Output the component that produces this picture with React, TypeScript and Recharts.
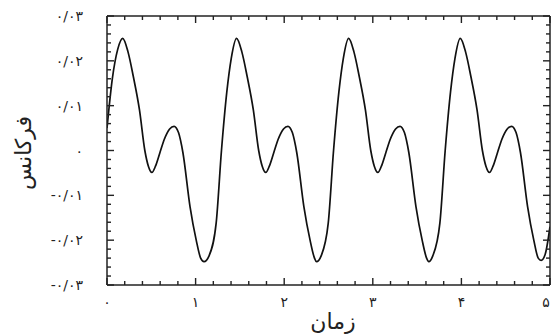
import React from 'react';
import { LineChart, Line, XAxis, YAxis } from 'recharts';

// time (x) values
const times = [
  0.0, 0.06, 0.12, 0.177, 0.237, 0.297, 0.367, 0.427, 0.467, 0.507, 0.547, 0.597, 0.647, 0.707, 0.757, 0.807, 0.857, 0.937, 1.007, 1.057, 1.095,
  1.152, 1.232, 1.292, 1.352, 1.402, 1.462, 1.522, 1.582, 1.652, 1.712, 1.752, 1.792, 1.832, 1.882, 1.932, 1.992, 2.042, 2.092, 2.142, 2.222, 2.292, 2.342, 2.365,
  2.417, 2.497, 2.557, 2.617, 2.667, 2.727, 2.787, 2.847, 2.917, 2.977, 3.017, 3.057, 3.097, 3.147, 3.197, 3.257, 3.307, 3.357, 3.407, 3.487, 3.557, 3.607, 3.632,
  3.677, 3.757, 3.817, 3.877, 3.927, 3.987, 4.047, 4.107, 4.177, 4.237, 4.277, 4.317, 4.357, 4.407, 4.457, 4.517, 4.567, 4.617, 4.667, 4.747, 4.817, 4.867, 4.9, 4.945, 5.0,
];

// frequency (y) values
const freqs = [
  0.005, 0.016, 0.0225, 0.025, 0.022, 0.0165, 0.009, 0.0, -0.0035, -0.0049, -0.0035, -0.0005, 0.0025, 0.0048, 0.0054, 0.004, -0.0005, -0.0125, -0.02, -0.024, -0.0248,
  -0.0235, -0.0162, 0.0, 0.013, 0.0205, 0.025, 0.022, 0.0165, 0.009, 0.0, -0.0035, -0.0049, -0.0035, -0.0005, 0.0025, 0.0048, 0.0054, 0.004, -0.0005, -0.0125, -0.02, -0.024, -0.0248,
  -0.0235, -0.0162, 0.0, 0.013, 0.0205, 0.025, 0.022, 0.0165, 0.009, 0.0, -0.0035, -0.0049, -0.0035, -0.0005, 0.0025, 0.0048, 0.0054, 0.004, -0.0005, -0.0125, -0.02, -0.024, -0.0248,
  -0.0235, -0.0162, 0.0, 0.013, 0.0205, 0.025, 0.022, 0.0165, 0.009, 0.0, -0.0035, -0.0049, -0.0035, -0.0005, 0.0025, 0.0048, 0.0054, 0.004, -0.0005, -0.0125, -0.02, -0.024, -0.0245, -0.0232, -0.017,
];

const xMajorValues = [0, 1, 2, 3, 4, 5];
const xMajorLabels = ['۰', '۱', '۲', '۳', '۴', '۵'];
const yMajorValues = [0.03, 0.02, 0.01, 0, -0.01, -0.02, -0.03];
const yMajorLabels = ['۰/۰۳', '۰/۰۲', '۰/۰۱', '۰', '-۰/۰۱', '-۰/۰۲', '-۰/۰۳'];

const xTitle = 'زمان';
const yTitle = 'فرکانس';

const data = times.map((t, i) => ({ t, v: freqs[i] }));

const xTicks = Array.from({ length: 26 }, (_, i) => +(i * 0.2).toFixed(2));
const yTicks = Array.from({ length: 31 }, (_, i) => +(-0.03 + i * 0.002).toFixed(3));

const FONT = '"DejaVu Sans", sans-serif';
const INK = '#222';
const MAJOR = 7;
const MINOR = 4;
const TW = 1.4;

const findIdx = (arr: number[], v: number) => arr.findIndex((a) => Math.abs(a - v) < 1e-6);

// side: 'b' | 't' | 'l' | 'r'
const makeTick = (side: string) => (props: any) => {
  const X = Number(props.x);
  const Y = Number(props.y);
  const value = Number(props.payload?.value);
  const isX = side === 'b' || side === 't';
  const idx = findIdx(isX ? xMajorValues : yMajorValues, value);
  const major = idx >= 0;
  const len = major ? MAJOR : MINOR;
  let rx = X - TW / 2;
  let ry = Y - TW / 2;
  let rw = TW;
  let rh = TW;
  if (side === 'b') { ry = Y - len; rh = len; }
  if (side === 't') { ry = Y; rh = len; }
  if (side === 'l') { rx = X; rw = len; }
  if (side === 'r') { rx = X - len; rw = len; }
  let label: any = null;
  if (major && side === 'b') {
    const last = idx === xMajorValues.length - 1;
    label = (
      <text x={last ? X - 4 : X} y={Y + 22} textAnchor="middle" fontSize={14} fontFamily={FONT} fill={INK}>
        {xMajorLabels[idx]}
      </text>
    );
  }
  if (major && side === 'l') {
    label = (
      <text x={X - 24} y={Y + 5} textAnchor="end" fontSize={14} fontFamily={FONT} fill={INK} letterSpacing={2.5}>
        {yMajorLabels[idx]}
      </text>
    );
  }
  return (
    <g key={`${side}-${props.index}`}>
      <rect x={rx} y={ry} width={rw} height={rh} fill={INK} />
      {label}
    </g>
  );
};

const axisLine = { stroke: INK, strokeWidth: 1.5 };

const css = `.curve-wrap .recharts-line-curve { stroke: #111; stroke-width: 1.7px; }`;

export default function App() {
  return (
    <div className="curve-wrap" style={{ position: 'absolute', left: 0, top: 0, width: 551, height: 336, background: '#fff' }}>
      <style>{css}</style>
      <LineChart width={551} height={336} data={data} margin={{ top: 15, right: 0, bottom: 0, left: 0 }}>
        <XAxis xAxisId="b" dataKey="t" type="number" domain={[0, 5]} ticks={xTicks} interval={0} allowDataOverflow height={51} tickSize={0} tickMargin={0} tickLine={false} tick={makeTick('b')} axisLine={axisLine} />
        <XAxis xAxisId="top" orientation="top" dataKey="t" type="number" domain={[0, 5]} ticks={xTicks} interval={0} allowDataOverflow height={1} tickSize={0} tickMargin={0} tickLine={false} tick={makeTick('t')} axisLine={axisLine} />
        <YAxis yAxisId="l" type="number" domain={[-0.03, 0.03]} ticks={yTicks} interval={0} allowDataOverflow width={107} tickSize={0} tickMargin={0} tickLine={false} tick={makeTick('l')} axisLine={axisLine} />
        <YAxis yAxisId="r" orientation="right" type="number" domain={[-0.03, 0.03]} ticks={yTicks} interval={0} allowDataOverflow width={1} tickSize={0} tickMargin={0} tickLine={false} tick={makeTick('r')} axisLine={axisLine} />
        <Line xAxisId="b" yAxisId="l" type="monotone" dataKey="v" dot={false} isAnimationActive={false} />
      </LineChart>
      <svg width={551} height={336} style={{ position: 'absolute', left: 0, top: 0, pointerEvents: 'none' }}>
        <text x={333} y={329} textAnchor="middle" fontSize={22} fontFamily={FONT} fill={INK}>
          {xTitle}
        </text>
        <text x={25} y={153} transform="rotate(-90 25 153)" textAnchor="middle" dominantBaseline="middle" fontSize={22} fontFamily={FONT} fill={INK}>
          {yTitle}
        </text>
      </svg>
    </div>
  );
}
